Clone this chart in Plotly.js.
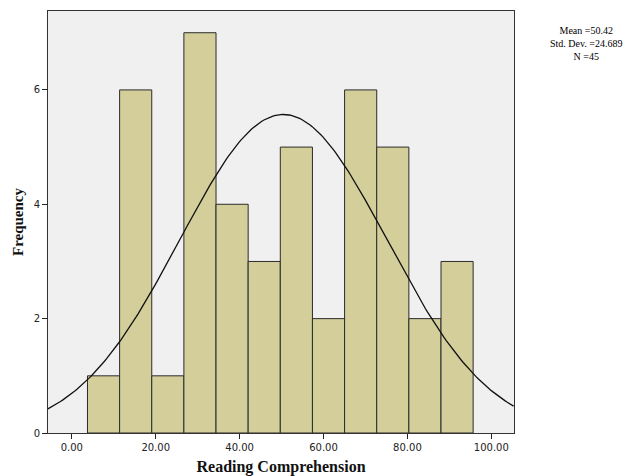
<!DOCTYPE html>
<html><head><meta charset="utf-8">
<script src="https://cdn.plot.ly/plotly-3.0.1.min.js"></script>
<style>html,body{margin:0;padding:0;background:#fff}#c{width:640px;height:476px}</style>
</head><body><div id="c"></div>
<script>
// Histogram bins (centers) and frequencies
const binCenters = [7.57, 15.23, 22.89, 30.55, 38.21, 45.87, 53.53, 61.19, 68.85, 76.51, 84.17, 91.83];
const binWidth = 7.66;
const frequencies = [1, 6, 1, 7, 4, 3, 5, 2, 6, 5, 2, 3];
const statMean = 50.42;
const statSD = 24.689;
const statN = 45;
const xTickVals = [0, 20, 40, 60, 80, 100];
const xTickText = ["0.00", "20.00", "40.00", "60.00", "80.00", "100.00"];
const yTickVals = [0, 2, 4, 6];

// Normal curve from the stated mean / sd / N
const cx = [], cy = [];
for (let x = -5.7; x <= 105.5; x += 0.5) {
  cx.push(x);
  const z = (x - statMean) / statSD;
  cy.push(statN * binWidth * Math.exp(-0.5 * z * z) / (statSD * Math.sqrt(2 * Math.PI)));
}

const data = [
  {type: 'bar', x: binCenters, y: frequencies, width: binWidth,
   marker: {color: '#d3ce9a', line: {color: '#2b2b2b', width: 1}},
   hoverinfo: 'none'},
  {type: 'scatter', mode: 'lines', x: cx, y: cy,
   line: {color: '#111', width: 1.3}, hoverinfo: 'none'}
];

const plotL = 47.5, plotW = 466.5, plotT = 11, plotH = 422;
const px = v => (v - plotL) / plotW;
const py = v => 1 - (v - plotT) / plotH;

const layout = {
  width: 640, height: 476,
  margin: {l: 47.5, r: 126, t: 11, b: 43},
  paper_bgcolor: '#ffffff', plot_bgcolor: '#f0f0f0',
  showlegend: false,
  xaxis: {range: [-5.67, 105.4], tickvals: xTickVals, ticktext: xTickText,
    ticks: 'outside', ticklen: 5, tickcolor: '#222', showgrid: false, zeroline: false,
    showline: true, linecolor: '#333', linewidth: 1, mirror: true,
    tickfont: {family: 'DejaVu Sans', size: 10, color: '#222'},
    title: {text: '<b>Reading Comprehension</b>', standoff: 9,
      font: {family: 'Liberation Serif', size: 16, color: '#111'}}},
  yaxis: {range: [0, 7.38], tickvals: yTickVals,
    ticks: 'outside', ticklen: 5, tickcolor: '#222', showgrid: false, zeroline: false,
    showline: true, linecolor: '#333', linewidth: 1, mirror: true,
    tickfont: {family: 'DejaVu Sans', size: 10, color: '#222'},
    title: {text: '<b>Frequency</b>', standoff: 6,
      font: {family: 'Liberation Serif', size: 15, color: '#111'}}},
  annotations: [
    {xref: 'paper', yref: 'paper', x: px(587), y: py(44), xanchor: 'center', yanchor: 'middle',
     showarrow: false, align: 'center',
     text: 'Mean =' + statMean.toFixed(2) + '<br>Std. Dev. =' + statSD.toFixed(3) + '<br>N =' + statN,
     font: {family: 'Liberation Serif', size: 10, color: '#000'}}
  ]
};

Plotly.newPlot('c', data, layout, {displayModeBar: false, staticPlot: true});
</script>
</body></html>
